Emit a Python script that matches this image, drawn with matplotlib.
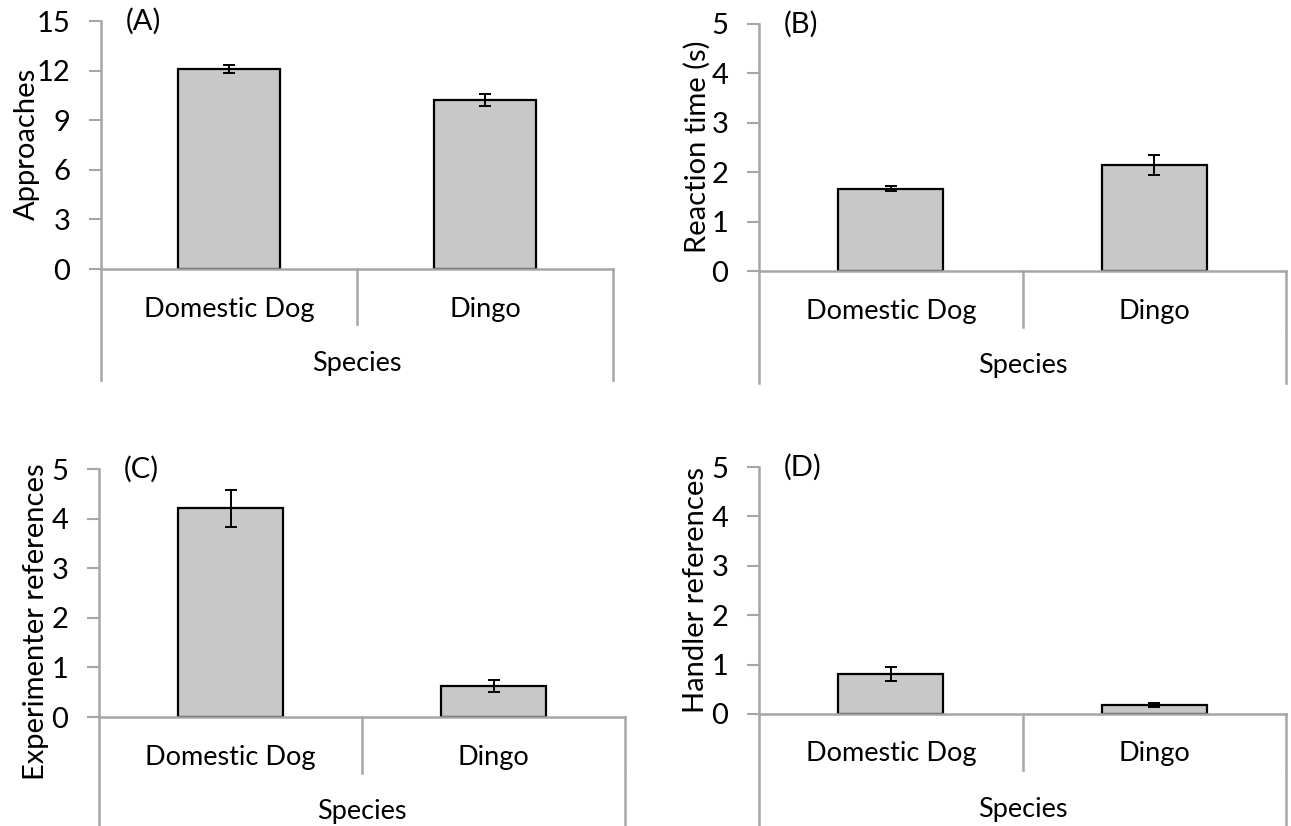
import matplotlib
matplotlib.use("Agg")
from matplotlib import pyplot as plt
import numpy as np

plt.rcParams['font.family'] = ['Lato', 'DejaVu Sans']

# data
species = ["Domestic Dog", "Dingo"]
approaches = [12.1, 10.22]
approaches_err = [0.22, 0.34]
reaction_time = [1.67, 2.15]
reaction_time_err = [0.05, 0.20]
experimenter_refs = [4.21, 0.62]
experimenter_refs_err = [0.37, 0.12]
handler_refs = [0.81, 0.18]
handler_refs_err = [0.14, 0.04]

W, H = 1291, 826
GRAY = "#a6a6a6"
FS_CAT = 19.5   # category / "Species" labels
FS_BIG = 21     # tick labels, axis titles, panel tags

fig = plt.figure(figsize=(W / 100, H / 100), dpi=100)


def panel(box, vals, errs, ylim, yticks, ylabel, ylabel_xy, tag, sep_len, side_len):
    left, right, top, bottom = box
    hpx = bottom - top
    ax = fig.add_axes([left / W, (H - bottom) / H, (right - left) / W, hpx / H])
    x = np.arange(len(species))
    ax.bar(x, vals, width=0.4, color="#c8c8c8", edgecolor="black", linewidth=1.6, zorder=2)
    ax.errorbar(x, vals, yerr=errs, fmt="none", ecolor="black", elinewidth=1.4,
                capsize=4, capthick=1.4, zorder=3)
    ax.set_xlim(-0.5, 1.5)
    ax.set_ylim(*ylim)
    ax.set_yticks(yticks)
    ax.set_xticks([])
    for s in ["top", "right"]:
        ax.spines[s].set_visible(False)
    for s in ["left", "bottom"]:
        ax.spines[s].set_color(GRAY)
        ax.spines[s].set_linewidth(1.8)
    ax.tick_params(axis="y", direction="out", length=9, width=1.5, color=GRAY,
                   labelsize=FS_BIG, pad=13)

    # category separators and outer bracket lines below the axis (Excel style)
    f = lambda px: -px / hpx
    tr = ax.transAxes
    ax.plot([0.5, 0.5], [0, f(sep_len)], color=GRAY, lw=1.8, transform=tr, clip_on=False)
    for xx in [0, 1]:
        ax.plot([xx, xx], [0, f(sep_len)], color=GRAY, lw=1.8, transform=tr, clip_on=False)
        ax.plot([xx, xx], [f(sep_len + 2), f(side_len)], color=GRAY, lw=1.8,
                transform=tr, clip_on=False)

    for i, name in enumerate(species):
        ax.text(0.25 + 0.5 * i, f(40), name, transform=tr, ha="center", va="center",
                fontsize=FS_CAT)
    ax.text(0.5, f(95), "Species", transform=tr, ha="center", va="center", fontsize=FS_CAT)

    ax.text(25 / (right - left), 1.0, tag, transform=tr, ha="left", va="center",
            fontsize=FS_BIG)
    fig.text(ylabel_xy[0] / W, 1 - ylabel_xy[1] / H, ylabel, rotation=90,
             ha="center", va="center", fontsize=FS_BIG)
    return ax


panel((101, 613, 21, 269), approaches, approaches_err, (0, 15), [0, 3, 6, 9, 12, 15],
      "Approaches", (27, 144), "(A)", 55, 111)
panel((759, 1286, 24, 271), reaction_time, reaction_time_err, (0, 5), [0, 1, 2, 3, 4, 5],
      "Reaction time (s)", (697, 147), "(B)", 56, 112)
panel((99, 625, 469, 717), experimenter_refs, experimenter_refs_err, (0, 5), [0, 1, 2, 3, 4, 5],
      "Experimenter references", (36, 622), "(C)", 56, 130)
panel((759, 1286, 467, 714), handler_refs, handler_refs_err, (0, 5), [0, 1, 2, 3, 4, 5],
      "Handler references", (696, 590), "(D)", 56, 130)

fig.savefig("out.png", dpi=100)
